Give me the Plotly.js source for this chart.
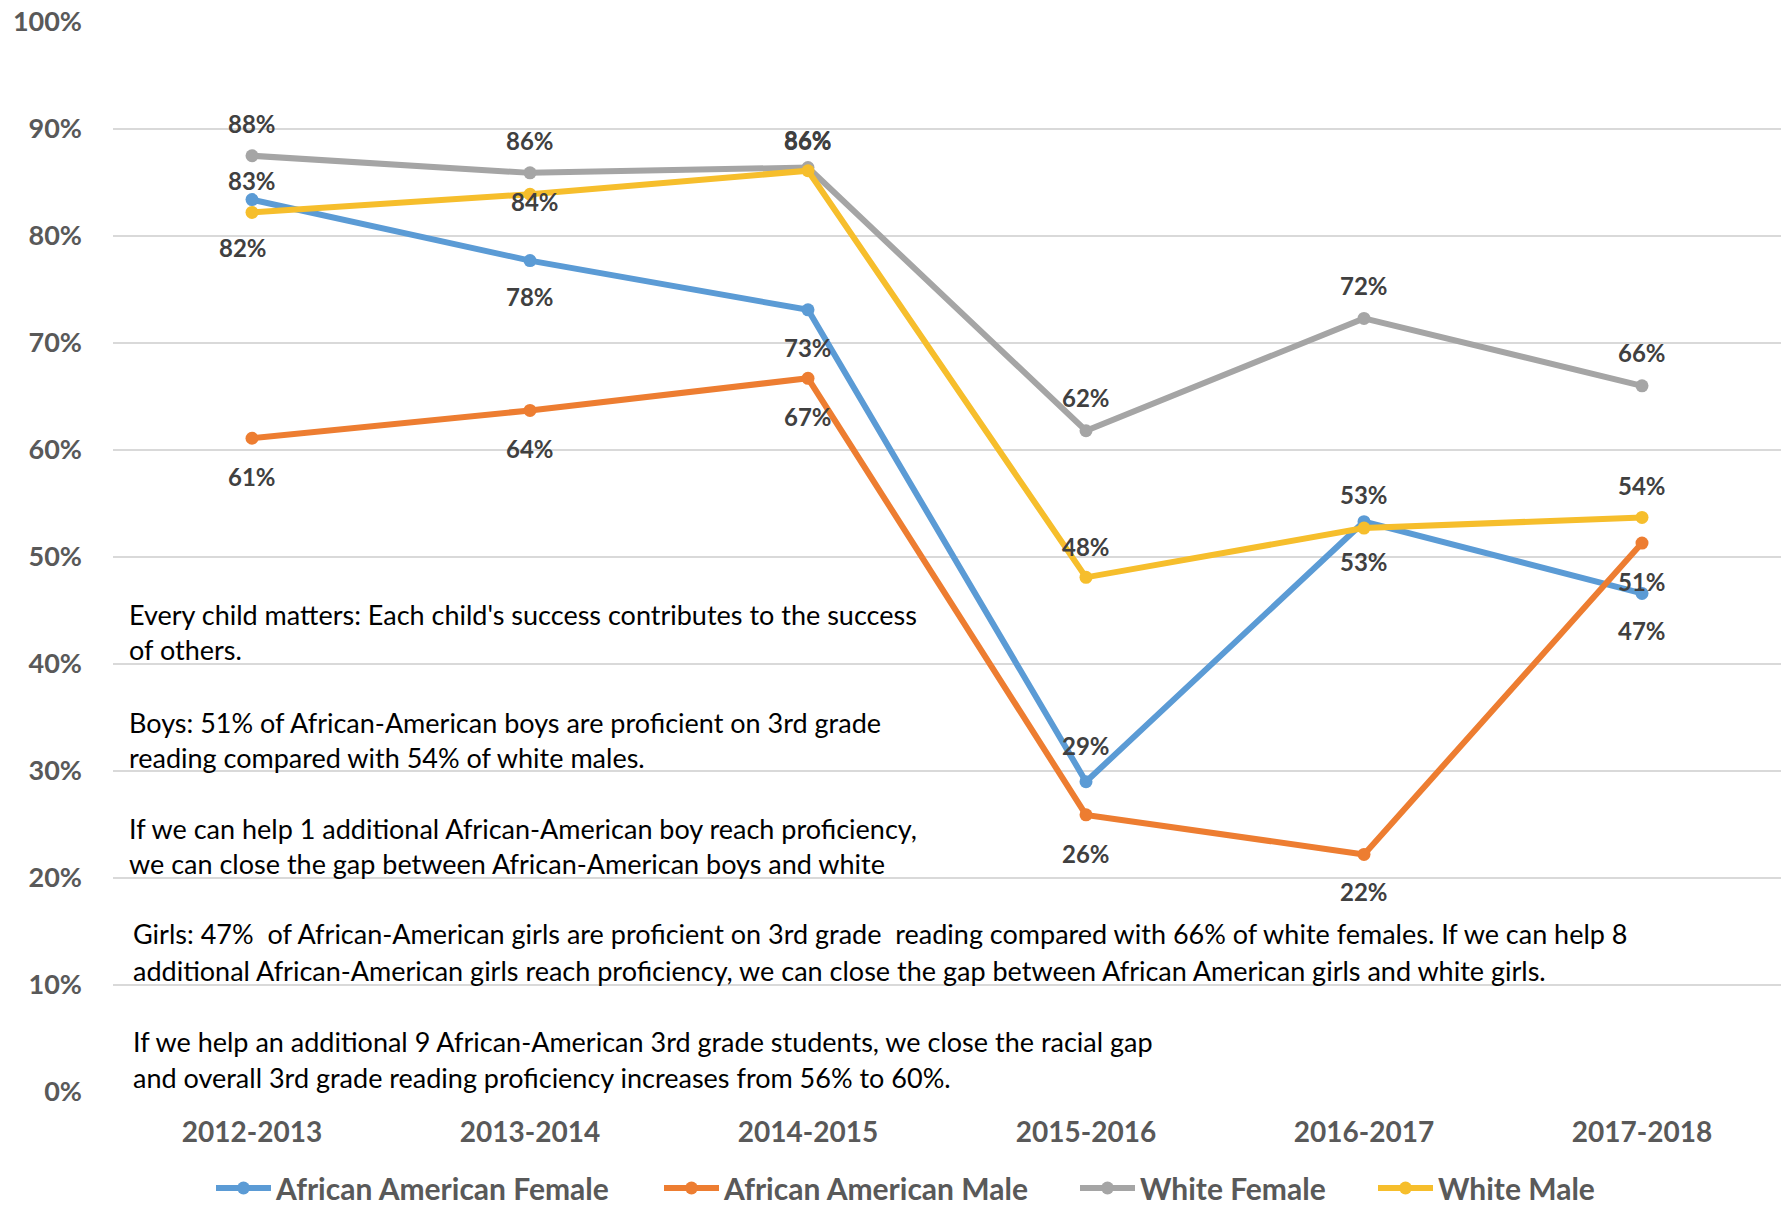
<!DOCTYPE html>
<html>
<head>
<meta charset="utf-8">
<script src="https://cdn.plot.ly/plotly-3.0.1.min.js"></script>
<style>
html,body{margin:0;padding:0;background:#fff;}
#chart{width:1781px;height:1209px;}
</style>
</head>
<body>
<div id="chart"></div>
<script>
// ---------- DATA ----------
const years = ['2012-2013', '2013-2014', '2014-2015', '2015-2016', '2016-2017', '2017-2018'];
const seriesNames = ['African American Female', 'African American Male', 'White Female', 'White Male'];
const aaFemale = [0.834, 0.777, 0.731, 0.290, 0.533, 0.466];
const aaMale = [0.611, 0.637, 0.667, 0.259, 0.222, 0.513];
const whiteFemale = [0.875, 0.859, 0.864, 0.618, 0.723, 0.660];
const whiteMale = [0.822, 0.839, 0.861, 0.481, 0.527, 0.537];
const yTickVals = [0, 0.1, 0.2, 0.3, 0.4, 0.5, 0.6, 0.7, 0.8, 0.9, 1.0];
const noteLines = [
  "Every child matters: Each child's success contributes to the success",
  "of others.",
  "Boys: 51% of African-American boys are proficient on 3rd grade",
  "reading compared with 54% of white males.",
  "If we can help 1 additional African-American boy reach proficiency,",
  "we can close the gap between African-American boys and white",
  "Girls: 47%  of African-American girls are proficient on 3rd grade  reading compared with 66% of white females. If we can help 8",
  "additional African-American girls reach proficiency, we can close the gap between African American girls and white girls.",
  "If we help an additional 9 African-American 3rd grade students, we close the racial gap",
  "and overall 3rd grade reading proficiency increases from 56% to 60%."
];

// ---------- STYLE ----------
const W = 1781, H = 1209;
const M = {l: 113, r: 0, t: 22, b: 117, autoexpand: false};
const colors = ['#5B9BD5', '#ED7D31', '#A5A5A5', '#F6BE2C'];
const seriesValues = [aaFemale, aaMale, whiteFemale, whiteMale];
// vertical label offsets in px (positive = up), and horizontal nudges
const labelShiftY = [
  [19, -36, -38, 36, 27, -37],
  [-38, -38, -38, -39, -37, -38],
  [32, 32, 27, 33, 33, 33],
  [-35, -7, 31, 31, -33, 32]
];
const labelShiftX = [
  [0, 0, 0, 0, 0, 0],
  [0, 0, 0, 0, 0, 0],
  [0, 0, 0, 0, 0, 0],
  [-9, 5, 0, 0, 0, 0]
];
// note line positions (pixel centres) and left edges
const noteY = [614.5, 650, 722, 757.6, 828, 863, 933.6, 970, 1041.5, 1077];
const noteX = [127, 127, 127, 127, 127, 127, 130.6, 130.6, 130.6, 130.6];
// legend entry left edges (px)
const legendX = [211, 659, 1075, 1373];
const legendY = 1188;
const plotW = W - M.l - M.r, plotH = H - M.t - M.b;
const pxToPaperX = px => (px - M.l) / plotW;
const pxToPaperY = py => (H - M.b - py) / plotH;

const FONT = 'Lato, "Open Sans", "Liberation Sans", sans-serif';
const legendKeys = ['legend', 'legend2', 'legend3', 'legend4'];

const traces = seriesNames.map((name, i) => ({
  type: 'scatter',
  mode: 'lines+markers',
  name: name,
  x: years,
  y: seriesValues[i],
  line: {color: colors[i], width: 6},
  marker: {color: colors[i], size: 13},
  legend: legendKeys[i],
  hoverinfo: 'skip'
}));

const annotations = [];
seriesValues.forEach((vals, i) => {
  vals.forEach((v, j) => {
    annotations.push({
      xref: 'x', yref: 'y', x: years[j], y: v,
      text: Math.round(v * 100) + '%',
      showarrow: false,
      xanchor: 'center', yanchor: 'middle',
      yshift: labelShiftY[i][j], xshift: labelShiftX[i][j],
      font: {family: FONT, size: 24, color: '#404040', weight: 'bold'}
    });
  });
});
noteLines.forEach((t, k) => {
  annotations.push({
    xref: 'paper', yref: 'paper',
    x: pxToPaperX(noteX[k]), y: pxToPaperY(noteY[k]),
    xanchor: 'left', yanchor: 'middle',
    text: t, showarrow: false,
    font: {family: FONT, size: 27, color: '#000000'}
  });
});

const layout = {
  width: W, height: H,
  margin: M,
  paper_bgcolor: '#ffffff', plot_bgcolor: '#ffffff',
  showlegend: true,
  xaxis: {
    type: 'category',
    range: [-0.5, 5.5],
    showgrid: false, zeroline: false, showline: false,
    ticks: '',
    tickfont: {family: FONT, size: 28, color: '#595959', weight: 'bold'},
    ticklabelstandoff: 21,
    fixedrange: true
  },
  yaxis: {
    range: [0, 1],
    tickvals: yTickVals,
    tickformat: '.0%',
    showgrid: true, gridcolor: '#D9D9D9', gridwidth: 2,
    zeroline: false, showline: false,
    ticks: '',
    tickfont: {family: FONT, size: 27, color: '#595959', weight: 'bold'},
    ticklabelstandoff: 30,
    fixedrange: true
  },
  annotations: annotations
};
legendKeys.forEach((k, i) => {
  layout[k] = {
    orientation: 'h',
    x: pxToPaperX(legendX[i]), xanchor: 'left',
    y: pxToPaperY(legendY), yanchor: 'middle',
    font: {family: FONT, size: 30, color: '#595959', weight: 'bold'},
    itemwidth: 55,
    bgcolor: 'rgba(0,0,0,0)'
  };
});

Plotly.newPlot('chart', traces, layout, {displayModeBar: false, staticPlot: true});
</script>
</body>
</html>
